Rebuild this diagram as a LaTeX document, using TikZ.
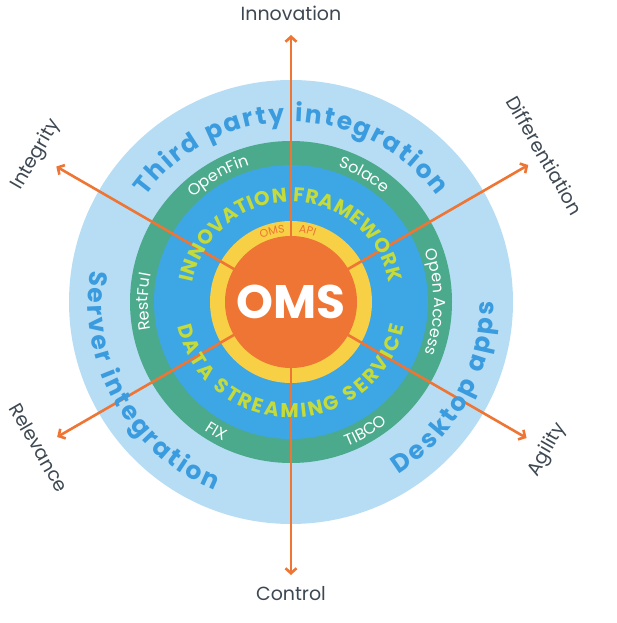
\documentclass[tikz,border=0pt]{standalone}
\usepackage{fontspec}
\setmainfont{Poppins}
\usetikzlibrary{arrows.meta,decorations.text}
\definecolor{skyring}{HTML}{B6DDF4}
\definecolor{greenring}{HTML}{4BAA8B}
\definecolor{bluering}{HTML}{3DA6E4}
\definecolor{yellowring}{HTML}{F7D046}
\definecolor{omsorange}{HTML}{EE7533}
\definecolor{bandblue}{HTML}{3A9BDF}
\definecolor{limetext}{HTML}{C5DB3A}
\definecolor{slate}{HTML}{3D4852}
\newcommand\bandfont{\fontsize{25}{25}\selectfont\bfseries\color{bandblue}}
\newcommand\corefont{\fontsize{20}{20}\selectfont\bfseries\color{limetext}}
\newcommand\greenfont{\fontsize{16}{16}\selectfont\color{white}}
\newcommand\apifont{\fontsize{11}{11}\selectfont\color{omsorange}}
\tikzset{
  ray/.style={draw=omsorange, line width=2.6pt, -{Straight Barb[length=5pt,width=11pt]}},
  outlbl/.style={text=slate, font=\fontsize{19}{19}\selectfont},
  ringtext/.style={decorate, decoration={text along path, text align=fit to path, text={#1}}},
  ringlabel/.style={decorate, decoration={text along path, text align=center, text={#1}}}
}
\begin{document}
\begin{tikzpicture}[x=1pt,y=1pt]
        \useasboundingbox (-291,-321) rectangle (325,302);
        \coordinate (c) at (0,0);
        \fill[skyring] (c) circle (222);
        \fill[greenring] (c) circle (161);
        \fill[bluering] (c) circle (137);
        \fill[yellowring] (c) circle (81);

        \coordinate (tInnovation) at (90:267);
        \coordinate (tControl) at (270:273);
        \coordinate (tIntegrity) at (150:271);
        \coordinate (tDifferentiation) at (30:274);
        \coordinate (tRelevance) at (210:270);
        \coordinate (tAgility) at (330:272);

        \path[ray]
        (c) edge (tInnovation)
        (c) edge (tControl)
        (c) edge (tIntegrity)
        (c) edge (tDifferentiation)
        (c) edge (tRelevance)
        (c) edge (tAgility)
        ;

        \fill[omsorange] (c) circle (66);
        \node[text=white, font=\fontsize{47}{47}\selectfont\bfseries] (oms) at (c) {OMS};

        \path[ringtext={|\bandfont|Third party integration}] (144:180) arc (144:36:180);
        \path[ringtext={|\bandfont|Server integration}] (171:203) arc (171:248:203);
        \path[ringtext={|\bandfont|Desktop apps}] (302:203) arc (302:360:203);

        \path[ringtext={|\corefont|INNOVATION FRAMEWORK}] (169:100) arc (169:11:100);
        \path[ringtext={|\corefont|DATA STREAMING SERVICE}] (192:116) arc (192:348:116);

        \path[ringlabel={|\greenfont|OpenFin}] (150:143) arc (150:90:143);
        \path[ringlabel={|\greenfont|Solace}] (90:143) arc (90:30:143);
        \path[ringlabel={|\greenfont|Open Access}] (40:143) arc (40:-40:143);
        \path[ringlabel={|\greenfont|RestFul}] (220:143) arc (220:140:143);
        \path[ringlabel={|\greenfont|FIX}] (210:155) arc (210:270:155);
        \path[ringlabel={|\greenfont|TIBCO}] (270:155) arc (270:330:155);

        \path[ringlabel={|\apifont|OMS}] (115:70) arc (115:95:70);
        \path[ringlabel={|\apifont|API}] (87:70) arc (87:67:70);

        \node[outlbl] (innovation) at (90:289) {Innovation};
        \node[outlbl] (control) at (270:292) {Control};
        \node[outlbl, rotate=60] (integrity) at (150:294) {Integrity};
        \node[outlbl, rotate=-60] (differentiation) at (30:293) {Differentiation};
        \node[outlbl, rotate=-60] (relevance) at (210:291) {Relevance};
        \node[outlbl, rotate=60] (agility) at (330:296) {Agility};
\end{tikzpicture}
\end{document}
